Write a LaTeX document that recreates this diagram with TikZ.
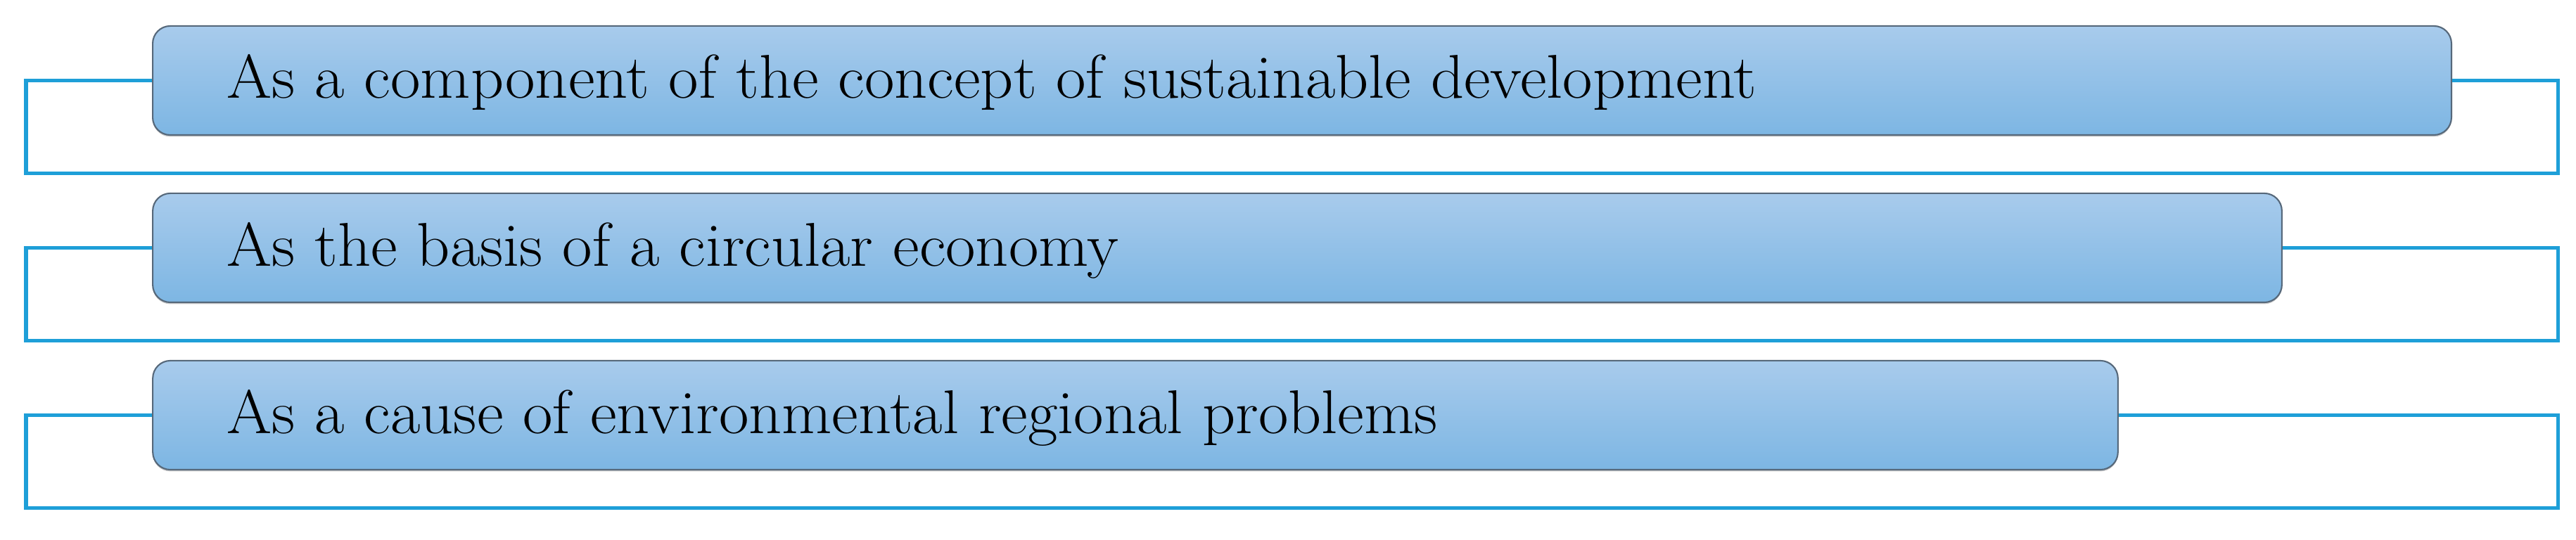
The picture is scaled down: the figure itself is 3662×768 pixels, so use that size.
\documentclass[tikz,border=0pt]{standalone}
\usetikzlibrary{shadows}
\definecolor{linecol}{HTML}{1E9FD8}
\definecolor{boxtop}{HTML}{A8CBEC}
\definecolor{boxbot}{HTML}{7DB6E3}
\definecolor{boxdraw}{HTML}{56687A}
\newcommand{\widetxt}[1]{\scalebox{1.05}[1]{#1}}
\begin{document}
\begin{tikzpicture}[x=0.01cm,y=-0.01cm,
  boxnode/.style={draw=boxdraw, line width=0.6pt, rounded corners=0.25cm,
    top color=boxtop, bottom color=boxbot, minimum height=1.55cm, inner sep=0pt,
    drop shadow={shadow xshift=0pt, shadow yshift=-0.7pt, opacity=0.35, fill=black!60}},
  lbl/.style={anchor=base west, inner sep=0pt, font=\fontsize{25}{29}\selectfont},
  conn/.style={draw=linecol, line width=0.05cm}]
\useasboundingbox (0,0) rectangle (3662,768);
% connectors' corner points
\coordinate (c1a) at (37,247);  \coordinate (c1b) at (3636,247);
\coordinate (c2a) at (37,485);  \coordinate (c2b) at (3636,485);
\coordinate (c3a) at (37,723);  \coordinate (c3b) at (3636,723);
\node[boxnode, minimum width=32.66cm] (b1) at (1851,114.5) {};
\node[boxnode, minimum width=30.25cm] (b2) at (1730.5,352.5) {};
\node[boxnode, minimum width=27.92cm] (b3) at (1614,590.5) {};
\draw[conn] (b1.west) -| (c1a) -- (c1b) |- (b1.east);
\draw[conn] (b2.west) -| (c2a) -- (c2b) |- (b2.east);
\draw[conn] (b3.west) -| (c3a) -- (c3b) |- (b3.east);
\node[lbl] (t1) at (322,140) {\widetxt{As a component of the concept of sustainable development}};
\node[lbl] (t2) at (322,379) {\widetxt{As the basis of a circular economy}};
\node[lbl] (t3) at (322,617) {\widetxt{As a cause of environmental regional problems}};
\end{tikzpicture}
\end{document}
